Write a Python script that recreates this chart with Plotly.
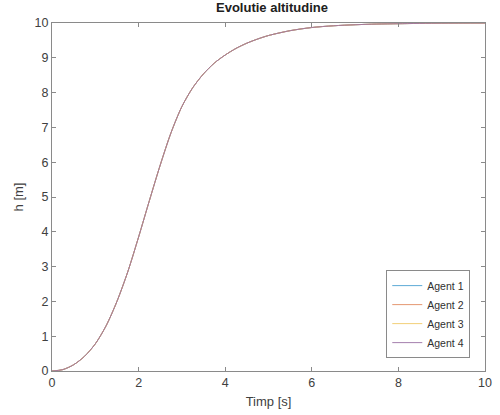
import plotly.graph_objects as go

time_s = [0, 0.25, 0.5, 0.75, 1.0, 1.25, 1.5, 1.75, 2.0, 2.25, 2.5, 2.75, 3.0,
          3.25, 3.5, 3.75, 4.0, 4.25, 4.5, 4.75, 5.0, 5.5, 6.0, 6.5, 7.0, 7.5, 8.0, 9.0, 10.0]
agent1 = [0, 0.04, 0.18, 0.42, 0.78, 1.30, 2.00, 2.85, 3.85, 4.90, 5.92, 6.85, 7.60,
          8.14, 8.54, 8.85, 9.08, 9.27, 9.42, 9.54, 9.64, 9.78, 9.87, 9.92, 9.95, 9.97,
          9.98, 9.995, 10.0]
agent2 = list(agent1)
agent3 = list(agent1)
agent4 = list(agent1)

names = ["Agent 1", "Agent 2", "Agent 3", "Agent 4"]
series = [agent1, agent2, agent3, agent4]
colors = ["#4a9fd0", "#e08a60", "#efc868", "#9a6fa3"]

x_ticks = [0, 2, 4, 6, 8, 10]
y_ticks = [0, 1, 2, 3, 4, 5, 6, 7, 8, 9, 10]

fig = go.Figure()
for n, s, c in zip(names, series, colors):
    fig.add_trace(go.Scatter(x=time_s, y=s, mode="lines", name=n,
                             line=dict(color=c, width=0.9, shape="spline", smoothing=0.8)))

axis_common = dict(showline=True, linecolor="#8a8a8a", linewidth=1, mirror="ticks",
                   ticks="inside", ticklen=4, tickcolor="#8a8a8a", showgrid=False,
                   zeroline=False, tickfont=dict(family="Liberation Sans, Arial", size=12.5, color="#404040"))

fig.update_layout(
    width=500, height=415,
    margin=dict(l=52, r=8, t=23, b=44),
    plot_bgcolor="white", paper_bgcolor="white",
    title=dict(text="<b>Evolutie altitudine</b>", x=0.544, xanchor="center", y=0.994, yanchor="top",
               font=dict(family="Liberation Sans, Arial", size=13, color="#202020")),
    xaxis=dict(range=[0, 10], tickvals=x_ticks, title=dict(text="Timp [s]", standoff=7,
               font=dict(family="Liberation Sans, Arial", size=13, color="#404040")), **axis_common),
    yaxis=dict(range=[0, 10], tickvals=y_ticks, title=dict(text="h [m]", standoff=8,
               font=dict(family="Liberation Sans, Arial", size=13, color="#404040")), **axis_common),
    legend=dict(x=0.966, xanchor="right", y=0.037, yanchor="bottom",
                bgcolor="white", bordercolor="#8a8a8a", borderwidth=1,
                font=dict(family="Liberation Sans, Arial", size=10.5, color="#303030"),
                tracegroupgap=0, itemwidth=30),
    showlegend=True,
)

fig.write_html("out.html")
